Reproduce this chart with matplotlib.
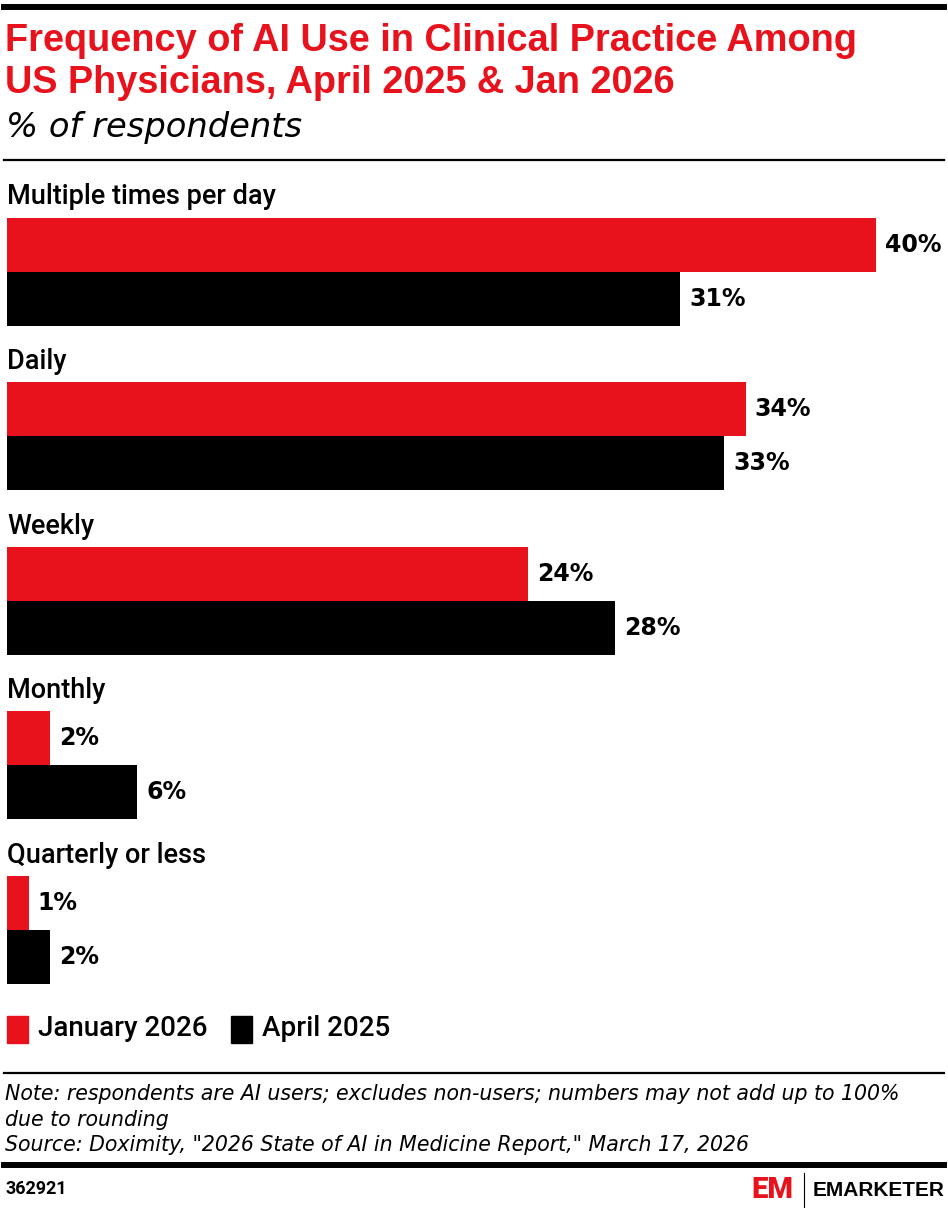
import matplotlib
matplotlib.use("Agg")
import matplotlib.pyplot as plt
from matplotlib.lines import Line2D
from matplotlib.patches import Rectangle

# ── DATA ────────────────────────────────────────────────────────────
categories = ["Multiple times per day", "Daily", "Weekly", "Monthly",
              "Quarterly or less"]
jan_2026 = [40, 34, 24, 2, 1]
apr_2025 = [31, 33, 28, 6, 2]
series_names = ["January 2026", "April 2025"]

title_lines = ["Frequency of AI Use in Clinical Practice Among",
               "US Physicians, April 2025 & Jan 2026"]
subtitle = "% of respondents"
note_lines = [
    "Note: respondents are AI users; excludes non-users; numbers may not add up to 100%",
    "due to rounding",
    "Source: Doximity, \"2026 State of AI in Medicine Report,\" March 17, 2026",
]
chart_id = "362921"

RED = "#e8121c"
BLACK = "#000000"
W, H = 948, 1212
TITLE_FONT = ["Liberation Sans", "DejaVu Sans"]
ITALIC = ["DejaVu Sans"]
VALUE_FONT = ["DejaVu Sans"]

plt.rcParams["font.family"] = ["Roboto", "DejaVu Sans"]

fig = plt.figure(figsize=(W / 100, H / 100), dpi=100)


def fy(py):
    """pixel row (from top) -> figure fraction"""
    return 1 - py / H


def fx(px):
    return px / W


def hline(py, lw, x0=4, x1=944):
    fig.add_artist(Line2D([fx(x0), fx(x1)], [fy(py), fy(py)],
                          color="black", linewidth=lw,
                          transform=fig.transFigure))


# ── HEADER ──────────────────────────────────────────────────────────
hline(7, 4.3)
for k, line in enumerate(title_lines):
    fig.text(fx(5), fy(51 + 42 * k), line, color=RED, fontsize=27.3,
             fontweight="bold", family=TITLE_FONT, va="baseline")
fig.text(fx(6), fy(137), subtitle, color="black", fontsize=24.3,
         fontstyle="oblique", family=ITALIC, va="baseline")
hline(160, 1.6)

# ── BARS ────────────────────────────────────────────────────────────
px_per_pct = (876 - 7) / 40
ax = fig.add_axes([fx(7), fy(1000), fx(W - 7), (1000 - 170) / H])
ax.set_xlim(0, (W - 7) / px_per_pct)
ax.set_ylim(1000, 170)
ax.axis("off")

period = 164.6
bar_h = 54
for i, cat in enumerate(categories):
    label_y = 197 + i * period
    red_y = label_y + 47.5
    blk_y = red_y + bar_h
    ax.text(0, label_y, cat, fontsize=19.5, fontweight="medium",
            va="center", ha="left")
    ax.barh(red_y, jan_2026[i], height=bar_h, color=RED, linewidth=0)
    ax.barh(blk_y, apr_2025[i], height=bar_h, color=BLACK, linewidth=0)
    for val, yy in ((jan_2026[i], red_y), (apr_2025[i], blk_y)):
        ax.annotate(f"{val}%", (val, yy), xytext=(6.5, 0),
                    textcoords="offset points", va="center", ha="left",
                    fontsize=17, fontweight="bold", family=VALUE_FONT)

# ── LEGEND ──────────────────────────────────────────────────────────
for (x0, name, col) in ((7, series_names[0], RED),
                        (231, series_names[1], BLACK)):
    fig.add_artist(Rectangle((fx(x0), fy(1043)), fx(21), 27 / H,
                             color=col, transform=fig.transFigure))
    fig.text(fx(x0 + 31), fy(1029), name, fontsize=20,
             fontweight="medium", va="center", ha="left")

# ── FOOTER ──────────────────────────────────────────────────────────
hline(1073, 1.6)
for k, line in enumerate(note_lines):
    fig.text(fx(5), fy(1100 + 25.5 * k), line, fontsize=14.8,
             fontstyle="oblique", family=ITALIC, va="baseline")
hline(1165, 4.3)
fig.text(fx(6), fy(1189), chart_id, fontsize=13, fontweight="bold",
         va="center", ha="left")

# logo
fig.text(fx(751), fy(1190), "EM", color=RED, fontsize=21,
         fontweight="black", va="center", ha="left")
fig.add_artist(Line2D([fx(804), fx(804)], [fy(1173), fy(1207)],
                      color="black", linewidth=0.8,
                      transform=fig.transFigure))
fig.text(fx(813), fy(1191), "EMARKETER", fontsize=15,
         fontweight="bold", family=TITLE_FONT, va="center", ha="left")

fig.savefig("out.png", dpi=100)
